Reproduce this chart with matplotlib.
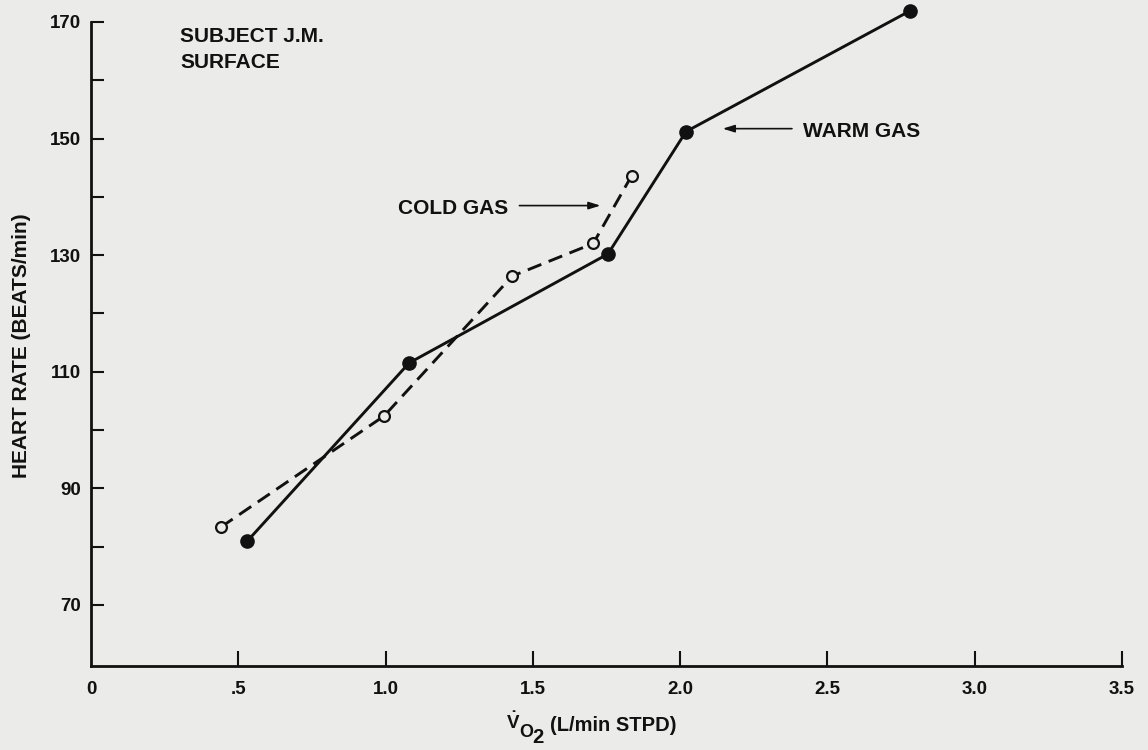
import matplotlib
matplotlib.use("Agg")
import matplotlib.pyplot as plt
from matplotlib.ticker import FixedLocator

# Data
warm_x = [0.53, 1.08, 1.755, 2.02, 2.78]
warm_y = [80.9, 111.5, 130.2, 151.2, 171.9]
cold_x = [0.44, 0.995, 1.43, 1.705, 1.835]
cold_y = [83.3, 102.4, 126.4, 132.0, 143.6]

x_ticks = [0, 0.5, 1.0, 1.5, 2.0, 2.5, 3.0, 3.5]
x_tick_labels = ['0', '.5', '1.0', '1.5', '2.0', '2.5', '3.0', '3.5']
y_ticks = [70, 90, 110, 130, 150, 170]
y_minor = [80, 100, 120, 140, 160]

BG = '#ebebea'
INK = '#111111'

plt.rcParams['font.family'] = ['Liberation Sans', 'DejaVu Sans']
plt.rcParams['font.weight'] = 'bold'
plt.rcParams['mathtext.fontset'] = 'custom'
plt.rcParams['mathtext.rm'] = 'Liberation Sans:bold'
plt.rcParams['mathtext.bf'] = 'Liberation Sans:bold'
plt.rcParams['mathtext.it'] = 'Liberation Sans:bold'

W, H = 1148, 750
fig = plt.figure(figsize=(W / 100, H / 100), dpi=100, facecolor=BG)
ax = fig.add_axes([91 / W, (H - 666) / H, (1122 - 91) / W, (666 - 22) / H])
ax.set_facecolor(BG)

ax.set_xlim(0, 3.5)
ax.set_ylim(59.5, 170)

ax.plot(warm_x, warm_y, '-', color=INK, lw=2.1, marker='o', ms=9.5,
        mfc=INK, mec=INK, clip_on=False, zorder=3)
ax.plot(cold_x, cold_y, color=INK, lw=2.1, ls=(0, (5, 2.7)), marker='o', ms=7.8,
        mfc=BG, mec=INK, mew=1.6, clip_on=False, zorder=4)

for s in ['top', 'right']:
    ax.spines[s].set_visible(False)
for s in ['left', 'bottom']:
    ax.spines[s].set_linewidth(2.0)
    ax.spines[s].set_color(INK)

ax.set_xticks(x_ticks)
ax.set_xticklabels(x_tick_labels)
ax.tick_params(axis='x', direction='in', length=11, width=1.5, pad=11,
               labelsize=13.5, colors=INK)
ax.set_yticks(y_ticks)
ax.set_yticklabels([str(v) for v in y_ticks])
ax.yaxis.set_minor_locator(FixedLocator(y_minor))
ax.tick_params(axis='y', which='both', direction='in', length=9, width=1.5,
               pad=7, labelsize=13.5, colors=INK)
ax.xaxis.get_major_ticks()[0].tick1line.set_visible(False)

# Axis titles
fig.text(22 / W, 1 - 346 / H, 'HEART RATE (BEATS/min)', rotation=90,
         fontsize=15, fontweight='bold', color=INK, ha='center', va='center')
fig.text(506 / W, 1 - 729 / H, r'$\dot{\mathrm{V}}$', fontsize=13.5,
         color=INK, ha='left', va='baseline')
fig.text(519 / W, 1 - 737 / H, 'O', fontsize=13, fontweight='bold',
         color=INK, ha='left', va='baseline')
fig.text(532 / W, 1 - 743 / H, '2', fontsize=14.5, fontweight='bold',
         color=INK, ha='left', va='baseline')
fig.text(550 / W, 1 - 731 / H, '(L/min STPD)', fontsize=14.5,
         fontweight='bold', color=INK, ha='left', va='baseline')

# Annotations
ax.text(0.302, 166.6, 'SUBJECT J.M.', fontsize=15, fontweight='bold',
        color=INK, va='baseline', ha='left')
ax.text(0.302, 162.05, 'SURFACE', fontsize=15, fontweight='bold',
        color=INK, va='baseline', ha='left')

ax.text(1.042, 137.1, 'COLD GAS', fontsize=15, fontweight='bold', color=INK,
        va='baseline', ha='left')
ax.annotate('', xy=(1.739, 138.5), xytext=(1.445, 138.5),
            arrowprops=dict(arrowstyle='-|>,head_length=0.7,head_width=0.22',
                            color=INK, lw=1.2))

ax.text(2.416, 150.2, 'WARM GAS', fontsize=15, fontweight='bold', color=INK,
        va='baseline', ha='left')
ax.annotate('', xy=(2.135, 151.7), xytext=(2.389, 151.7),
            arrowprops=dict(arrowstyle='-|>,head_length=0.7,head_width=0.22',
                            color=INK, lw=1.2))

fig.savefig('out.png', dpi=100, facecolor=BG)
